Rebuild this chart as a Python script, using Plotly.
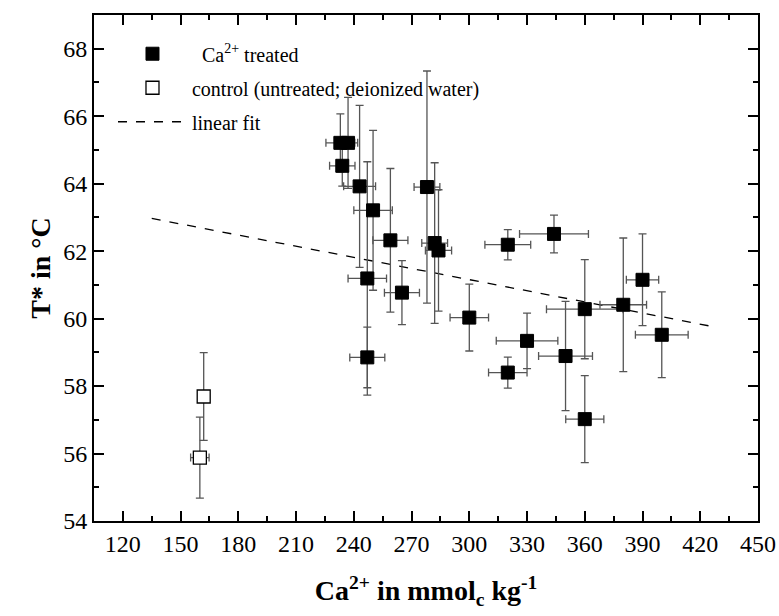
import plotly.graph_objects as go

# Ca2+ treated samples
treated_x = [233, 237, 234, 243, 250, 259, 247, 247, 265, 278, 282, 284,
             300, 320, 344, 330, 320, 350, 360, 360, 380, 390, 400]
treated_y = [65.21, 65.21, 64.53, 63.92, 63.21, 62.32, 61.19, 58.85, 60.77, 63.90, 62.24, 62.02,
             60.03, 62.19, 62.51, 59.34, 58.40, 58.89, 60.28, 57.02, 60.41, 61.15, 59.52]
treated_xerr = [7.5, 5.0, 6.6, 8.3, 10.0, 9.1, 10.0, 9.1, 9.1, 6.7, 6.7, 6.8,
                10.0, 11.9, 17.9, 16.0, 10.0, 14.0, 19.9, 9.9, 12.1, 8.4, 13.7]
treated_yerr = [0.86, 1.35, 0.60, 2.40, 2.37, 2.13, 3.46, 0.90, 0.95, 3.44, 2.38, 1.80,
                0.99, 0.45, 0.56, 0.82, 0.46, 1.62, 1.47, 1.29, 1.98, 1.36, 1.27]

# control (untreated; deionized water)
control_x = [160, 162]
control_y = [55.88, 57.69]
control_xerr = [4.8, 3.0]
control_yerr = [1.2, 1.3]

# linear fit end points
fit_x = [135, 425]
fit_y = [62.97, 59.78]

FONT = "Liberation Serif"
ERR_COLOR = "#555555"

fig = go.Figure()

fig.add_trace(go.Scatter(
    x=fit_x, y=fit_y, mode="lines", name="linear fit",
    line=dict(color="black", width=1.3, dash="dash"),
    legendgroup="c", legendrank=3,
))

fig.add_trace(go.Scatter(
    x=treated_x, y=treated_y, mode="markers", name="\u00a0\u00a0Ca<sup>2+</sup> treated",
    marker=dict(symbol="square", size=13, color="black", line=dict(color="black", width=1)),
    error_x=dict(type="data", array=treated_xerr, color=ERR_COLOR, thickness=1.3, width=4),
    error_y=dict(type="data", array=treated_yerr, color=ERR_COLOR, thickness=1.3, width=4),
    legendgroup="a", legendrank=1,
))

fig.add_trace(go.Scatter(
    x=control_x, y=control_y, mode="markers", name="control (untreated; deionized water)",
    marker=dict(symbol="square", size=13, color="white", line=dict(color="black", width=1.3)),
    error_x=dict(type="data", array=control_xerr, color=ERR_COLOR, thickness=1.3, width=4),
    error_y=dict(type="data", array=control_yerr, color=ERR_COLOR, thickness=1.3, width=4),
    legendgroup="b", legendrank=2,
))

axis_common = dict(
    showline=True, linecolor="black", linewidth=2, mirror="ticks",
    ticks="inside", ticklen=10, tickwidth=2, tickcolor="black",
    showgrid=False, zeroline=False,
    tickfont=dict(family=FONT, size=24, color="black"),
)

fig.update_xaxes(
    range=[105, 450], tick0=120, dtick=30,
    minor=dict(ticks="inside", ticklen=5, tickwidth=1.5, tickcolor="black", dtick=15, tick0=105),
    title=dict(text="<b>Ca<sup>2+</sup> in mmol<sub>c</sub> kg<sup>-1</sup></b>",
               font=dict(family=FONT, size=28, color="black"), standoff=25),
    **axis_common,
)
fig.update_yaxes(
    range=[54, 69], tick0=54, dtick=2,
    minor=dict(ticks="inside", ticklen=5, tickwidth=1.5, tickcolor="black", dtick=1, tick0=54),
    title=dict(text="<b>T* in °C</b>", font=dict(family=FONT, size=28, color="black"), standoff=4),
    **axis_common,
)

fig.update_layout(
    width=779, height=616,
    margin=dict(l=94, r=21, t=15, b=95, autoexpand=False),
    paper_bgcolor="white", plot_bgcolor="white",
    showlegend=True,
    legend=dict(
        x=0.0286, y=0.962, xanchor="left", yanchor="top",
        bgcolor="rgba(0,0,0,0)", borderwidth=0,
        font=dict(family=FONT, size=20, color="black"),
        tracegroupgap=5, itemwidth=69,
    ),
)

fig.write_html("out.html")
